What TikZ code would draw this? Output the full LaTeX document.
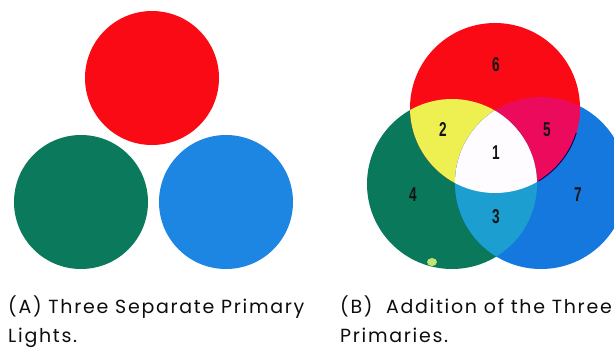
\documentclass[tikz,border=0pt]{standalone}
\usepackage{fontspec}
\setmainfont{Poppins}[LetterSpace=9]
\newfontfamily\numfont{Liberation Sans}
\definecolor{cred}{HTML}{FA0A14}
\definecolor{cgreen}{HTML}{0B7A5C}
\definecolor{cblue}{HTML}{1C86E2}
\definecolor{cyellow}{HTML}{EEF052}
\definecolor{cmag}{HTML}{EC0A5C}
\definecolor{ccyan}{HTML}{1C9ED0}
\definecolor{cblue2}{HTML}{1478DE}
\definecolor{cgreen2}{HTML}{0A785A}
\definecolor{cwhite}{HTML}{FFFCFF}
\tikzset{
  num/.style={font=\numfont\bfseries\fontsize{20}{20}\selectfont, xscale=0.68, inner sep=0pt, text=black!92},
  captext/.style={font=\fontsize{19}{19}\selectfont, anchor=base west, inner sep=0pt, text=black!95}
}
\begin{document}
\begin{tikzpicture}[x=1pt,y=-1pt]
\useasboundingbox (0,0) rectangle (614,349);
% (A) separate lights
\fill[cred] (152,78) circle (67);
\fill[cgreen] (81,202) circle (67);
\fill[cblue] (226,202) circle (67);
% (B) addition
\def\R{(495,108) circle (85)}
\def\G{(452,184) circle (85)}
\def\B{(541,183) circle (86)}
\fill[cgreen2] \G;
\fill[cblue2] \B;
\fill[cred] \R;
\begin{scope}\clip \R; \fill[cyellow] \G; \end{scope}
\begin{scope}\clip \R; \fill[cmag] \B; \end{scope}
\begin{scope}\clip \G; \fill[ccyan] \B; \end{scope}
\begin{scope}\clip \R; \clip \G; \fill[cwhite] \B; \end{scope}
\draw[color=blue!40!black, line width=0.9pt] (495,108) ++(17:85) arc (17:59:85);
\fill[yellow!60!green!60!white] (432,262) ellipse (5 and 4);
% numbers
\node[num] (n6) at (496,65) {6};
\node[num] (n2) at (443,130) {2};
\node[num] (n5) at (547,130) {5};
\node[num] (n1) at (496,153) {1};
\node[num] (n4) at (413,195) {4};
\node[num] (n3) at (496,217) {3};
\node[num] (n7) at (578,195) {7};
% captions
\node[captext] (ca1) at (8,313) {(A) Three Separate Primary};
\node[captext] (ca2) at (8,342) {Lights.};
\node[captext] (cb1) at (340,313) {(B)\ \ Addition of the Three};
\node[captext] (cb2) at (340,342) {Primaries.};
\end{tikzpicture}
\end{document}
